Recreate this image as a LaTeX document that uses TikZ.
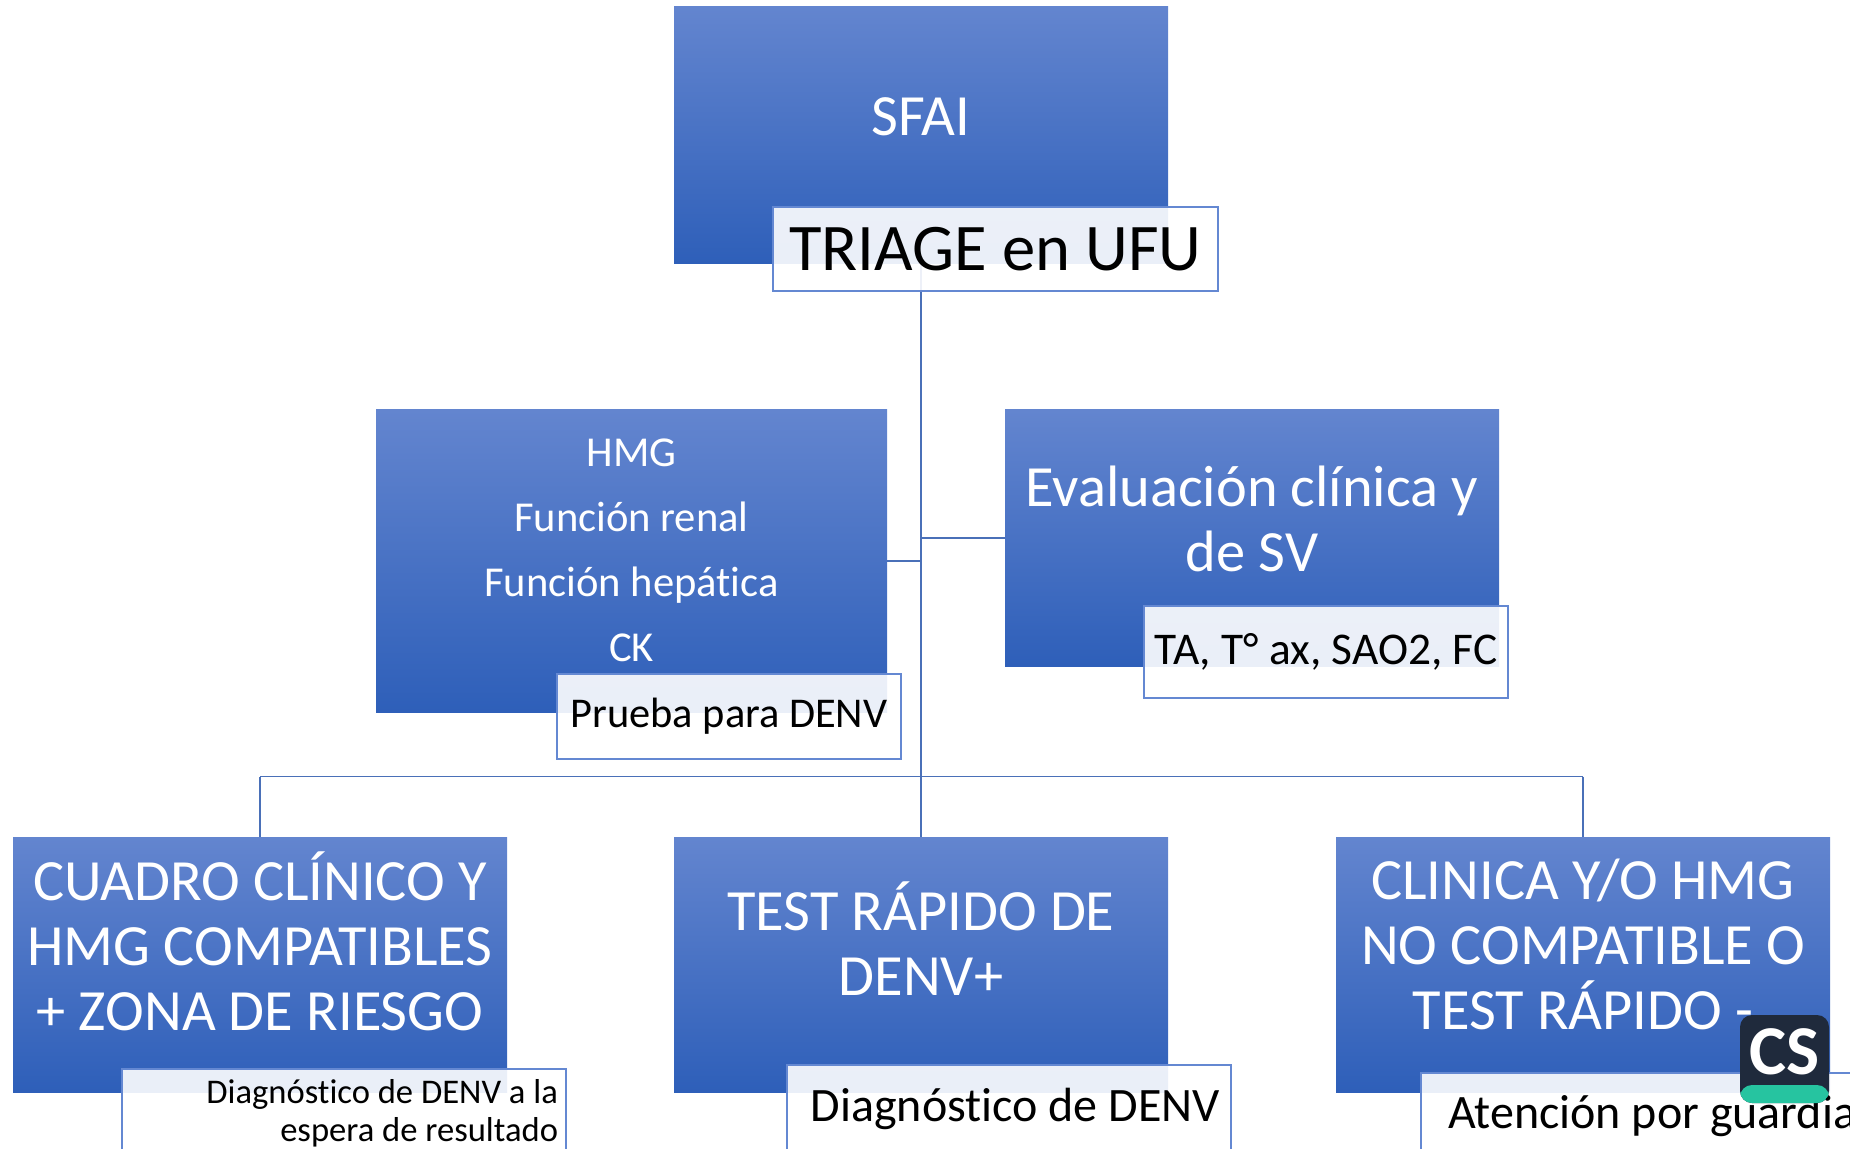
\documentclass[tikz,border=0pt]{standalone}
\usepackage{fontspec}
\setmainfont[Ligatures=NoCommon]{Carlito}
\definecolor{boxtop}{HTML}{6385CF}
\definecolor{boxmid}{HTML}{406FCA}
\definecolor{boxbot}{HTML}{2E5FB9}
\definecolor{linecol}{HTML}{4A70B8}
\definecolor{framecol}{HTML}{6488D2}
\definecolor{badgedark}{HTML}{1F2A3C}
\definecolor{badgegreen}{HTML}{26C4A0}
\tikzset{
    mainbox/.style={top color=boxtop, middle color=boxmid, bottom color=boxbot, text=white, align=center, inner sep=0pt, outer sep=0pt, font=\fontsize{29.2}{32.5}\selectfont},
    notebox/.style={draw=framecol, fill=white, fill opacity=.9, text opacity=1, text=black, align=center, inner sep=0pt, outer sep=0pt},
}
\begin{document}
\begin{tikzpicture}[line width=.6pt, linecol]
    \clip (0,0) rectangle (925pt,-574.5pt);
    \useasboundingbox (0,0) rectangle (925pt,-574.5pt);
    \node (sfai) [mainbox, minimum width=247pt, minimum height=128.5pt] at (460.5pt,-67.75pt) {SFAI\\[-13.5pt]};
    \node (hmg) [mainbox, minimum width=255.5pt, minimum height=151pt, below of=sfai, node distance=212.75pt, xshift=-144.75pt, font=\fontsize{21.3}{32.5}\selectfont] {HMG\\Función renal\\Función hepática\\CK\\[-21.5pt]};
    \node (eval) [mainbox, minimum width=247pt, minimum height=128pt, below of=sfai, node distance=201.25pt, xshift=165.5pt] {Evaluación clínica y\\de SV\\[-13.5pt]};
    \node (test) [mainbox, minimum width=247pt, minimum height=127.5pt, below of=sfai, node distance=414.5pt] {TEST RÁPIDO DE\\DENV+\\[-7pt]};
    \node (cuadro) [mainbox, minimum width=247pt, minimum height=127.5pt, left of=test, node distance=330.5pt] {CUADRO CLÍNICO Y\\HMG COMPATIBLES\\+ ZONA DE RIESGO\\[-8.7pt]};
    \node (clinica) [mainbox, minimum width=247pt, minimum height=127.5pt, right of=test, node distance=331pt] {CLINICA Y/O HMG\\NO COMPATIBLE O\\TEST RÁPIDO -\\[-12.5pt]};
    \coordinate (hmgjoin) at (hmg.east -| sfai.south);
    \coordinate (evaljoin) at (eval.west -| sfai.south);
    \coordinate (trunk) at (0,-388.25pt -| sfai.south);
    \coordinate (cuadrojoin) at (trunk -| cuadro.north);
    \coordinate (clinicajoin) at (trunk -| clinica.north);
    \path
    (sfai.south) edge (test.north)
    (hmg.east) edge (hmgjoin)
    (eval.west) edge (evaljoin)
    (cuadrojoin) edge (clinicajoin)
    (cuadrojoin) edge (cuadro.north)
    (clinicajoin) edge (clinica.north)
    ;
    \node (triage) [notebox, minimum width=222.5pt, minimum height=42pt, below of=sfai, node distance=56.75pt, xshift=37.25pt, font=\fontsize{33.3}{38}\selectfont] {TRIAGE en UFU};
    \node (prueba) [notebox, minimum width=172pt, minimum height=42.5pt, below of=hmg, node distance=77.75pt, xshift=48.75pt, font=\fontsize{21.2}{25}\selectfont] {Prueba para DENV};
    \node (signos) [notebox, minimum width=182pt, minimum height=46pt, below of=eval, node distance=57pt, xshift=37pt, font=\fontsize{22.7}{25}\selectfont] {TA, T° ax, SAO2, FC};
    \node (espera) [notebox, minimum width=222pt, minimum height=44pt, below of=cuadro, node distance=74.25pt, xshift=42pt, text width=214pt, align=flush right, font=\fontsize{17.3}{19}\selectfont] {Diagnóstico de DENV a la\\espera de resultado};
    \node (denv) [notebox, minimum width=222pt, minimum height=44pt, below of=test, node distance=72.25pt, xshift=44pt, text width=211pt, align=flush right, font=\fontsize{24}{28}\selectfont] {Diagnóstico de DENV};
    \node (guardia) [notebox, minimum width=239.5pt, minimum height=43pt, below of=clinica, node distance=75.75pt, xshift=38.75pt, text width=212.5pt, align=flush left, font=\fontsize{24}{28}\selectfont] {Atención por guardia};
    \node (badge) [fill=badgedark, rounded corners=6pt, minimum width=44.5pt, minimum height=44pt, inner sep=0pt, text=white, at={(892.25pt,-529.5pt)}, font=\fontsize{35}{36}\bfseries\selectfont, path picture={\fill[badgegreen] ([yshift=9pt]path picture bounding box.south west) rectangle (path picture bounding box.south east);}] {\raisebox{7pt}{CS}};
\end{tikzpicture}
\end{document}
